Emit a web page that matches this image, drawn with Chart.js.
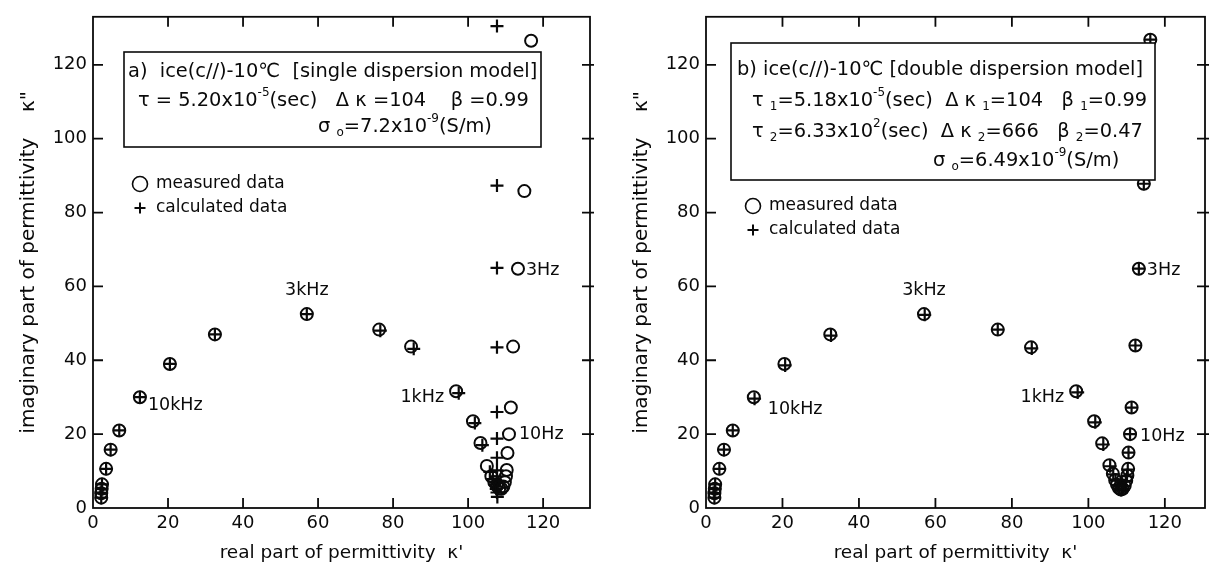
<!DOCTYPE html>
<html>
<head>
<meta charset="utf-8">
<script src="https://cdn.jsdelivr.net/npm/chart.js"></script>
<style>
body { margin: 0; background: #fff; }
#wrap { position: relative; width: 1214px; height: 572px; }
.panel { position: absolute; top: 0; width: 607px; height: 572px; }
</style>
</head>
<body>
<div id="wrap">
  <div class="panel" style="left:0"><canvas id="chartA"></canvas></div>
  <div class="panel" style="left:607px"><canvas id="chartB"></canvas></div>
</div>
<script>
const FONT = "'DejaVu Sans', sans-serif";
const INK = '#0a0a0a';
const tickValues = [0, 20, 40, 60, 80, 100, 120];

// a) single dispersion model
const measXA = [2.2, 2.2, 2.3, 2.4, 3.5, 4.7, 7.0, 12.5, 20.5, 32.5, 57, 76.3, 84.8, 96.8, 101.3, 103.3, 105.0,
  106.2, 107.0, 107.7, 108.3, 108.9, 109.4, 109.8, 110.1, 110.3, 110.5, 110.9, 111.4, 112.0, 113.3, 115.0, 116.8];
const measYA = [2.8, 4.0, 5.2, 6.4, 10.6, 15.8, 21, 30, 39, 47, 52.5, 48.3, 43.7, 31.6, 23.5, 17.6, 11.4,
  8.6, 7.0, 6.0, 5.3, 5.2, 5.8, 7.0, 8.6, 10.3, 14.9, 20, 27.2, 43.7, 64.8, 85.8, 126.5];
const calcXA = [2.2, 2.2, 2.3, 2.4, 3.5, 4.7, 7.0, 12.5, 20.5, 32.5, 57, 76.6, 85.5, 97.5, 101.8, 103.8,
  105.8, 106.6, 107.1, 107.5, 107.7, 107.8, 107.7, 107.7, 107.7, 107.7, 107.7, 107.7, 107.7, 107.7, 107.7, 107.7, 107.7];
const calcYA = [2.8, 4.0, 5.2, 6.4, 10.6, 15.8, 21, 30, 39, 47, 52.5, 48.0, 43.1, 31.1, 23.0, 17.0,
  9.8, 7.8, 6.4, 5.2, 4.2, 3.0, 5.8, 7.2, 8.6, 10.2, 13.6, 18.8, 26, 43.5, 65, 87.3, 130.5];

// b) double dispersion model
const measXB = [2.2, 2.2, 2.3, 2.4, 3.5, 4.7, 7.0, 12.5, 20.5, 32.5, 57, 76.3, 85.0, 96.8, 101.5, 103.6, 105.5,
  106.4, 107.0, 107.5, 108.0, 108.5, 109.0, 109.5, 109.9, 110.2, 110.4, 110.5, 110.9, 111.3, 112.3, 113.2, 114.5, 116.2];
const measYB = [2.8, 4.0, 5.2, 6.4, 10.6, 15.8, 21, 30, 39, 47, 52.5, 48.3, 43.5, 31.6, 23.5, 17.5, 11.6,
  9.3, 7.6, 6.3, 5.4, 5.0, 5.2, 6.0, 7.4, 8.8, 10.6, 15, 20, 27.2, 44, 64.8, 87.8, 126.8];
const calcXB = [2.2, 2.2, 2.3, 2.4, 3.5, 4.7, 7.0, 12.7, 20.7, 32.7, 57.2, 76.3, 85.2, 97.2, 101.8, 103.9, 105.7,
  106.5, 107.1, 107.6, 108.1, 108.6, 109.0, 109.4, 109.8, 110.1, 110.3, 110.5, 110.9, 111.3, 112.3, 113.2, 114.5, 116.2];
const calcYB = [2.8, 4.0, 5.2, 6.4, 10.6, 15.8, 21, 29.6, 38.6, 46.7, 52.3, 48.3, 43.2, 31.3, 23.2, 17.2, 11.3,
  9.1, 7.4, 6.1, 5.2, 4.9, 5.1, 5.9, 7.2, 8.6, 10.4, 15, 20, 27.2, 44, 64.8, 87.8, 126.8];

const freqText = ['3kHz', '10kHz', '1kHz', '10Hz', '3Hz'];
const freqXA = [57, 12.5, 96.8, 110.9, 113.3];
const freqYA = [52.5, 30, 31.6, 20, 64.8];
const freqXB = [57, 12.5, 96.8, 110.9, 113.2];
const freqYB = [52.5, 30, 31.6, 20, 64.8];

function pts(xs, ys) {
  return xs.map((v, i) => ({ x: v, y: ys[i] }));
}

// text made of runs: [text, 'sup' | 'sub' | undefined]
function drawRich(ctx, x, y, runs, size) {
  let cx = x;
  runs.forEach(([t, kind]) => {
    let s = size, dy = 0;
    if (kind === 'sup') { s = size * 0.62; dy = -size * 0.42; }
    if (kind === 'sub') { s = size * 0.62; dy = size * 0.32; }
    ctx.font = s + 'px ' + FONT;
    ctx.fillText(t, cx, y + dy);
    cx += ctx.measureText(t).width;
  });
}

const decorations = {
  id: 'decorations',
  afterDraw(chart, args, opts) {
    const { ctx, chartArea: a, scales: { x, y } } = chart;
    ctx.save();
    ctx.strokeStyle = INK;
    ctx.fillStyle = INK;
    ctx.lineWidth = 1.8;
    ctx.strokeRect(a.left, a.top, a.right - a.left, a.bottom - a.top);
    ctx.beginPath();
    tickValues.forEach(v => {
      if (v === 0) return;
      const px = x.getPixelForValue(v);
      ctx.moveTo(px, a.bottom); ctx.lineTo(px, a.bottom - 10);
      ctx.moveTo(px, a.top); ctx.lineTo(px, a.top + 10);
      const py = y.getPixelForValue(v);
      ctx.moveTo(a.left, py); ctx.lineTo(a.left + 10, py);
      ctx.moveTo(a.right - 8, py); ctx.lineTo(a.right + 4, py);
    });
    ctx.stroke();

    // parameter box
    const b = opts.box;
    ctx.fillStyle = '#fff';
    ctx.fillRect(b.x, b.y, b.w, b.h);
    ctx.lineWidth = 1.6;
    ctx.strokeRect(b.x, b.y, b.w, b.h);
    ctx.fillStyle = INK;
    ctx.textBaseline = 'middle';
    ctx.textAlign = 'left';
    opts.lines.forEach(l => drawRich(ctx, l.x, l.y, l.runs, 19.4));

    // legend
    const lg = opts.legend;
    ctx.lineWidth = 1.6;
    ctx.beginPath();
    ctx.arc(lg.x, lg.y, 7.5, 0, Math.PI * 2);
    ctx.stroke();
    ctx.lineWidth = 2;
    ctx.beginPath();
    ctx.moveTo(lg.x - 5.5, lg.y + lg.gap); ctx.lineTo(lg.x + 5.5, lg.y + lg.gap);
    ctx.moveTo(lg.x, lg.y + lg.gap - 5.5); ctx.lineTo(lg.x, lg.y + lg.gap + 5.5);
    ctx.stroke();
    ctx.font = '17px ' + FONT;
    ctx.fillText('measured data', lg.x + 16, lg.y);
    ctx.fillText('calculated data', lg.x + 16, lg.y + lg.gap);

    // frequency labels
    ctx.font = '17.5px ' + FONT;
    opts.freqX.forEach((fx, i) => {
      const [dx, dy, align] = opts.freqOffsets[i];
      ctx.textAlign = align;
      ctx.fillText(freqText[i], x.getPixelForValue(fx) + dx, y.getPixelForValue(opts.freqY[i]) + dy);
    });
    ctx.restore();
  }
};

function makeChart(id, m, c, xMax, yWidth, padRight, padTop, notes) {
  return new Chart(id, {
    type: 'scatter',
    data: {
      datasets: [
        {
          label: 'measured data',
          data: m,
          pointStyle: 'circle',
          pointRadius: 6,
          pointBorderWidth: 2,
          borderColor: INK,
          backgroundColor: 'rgba(0,0,0,0)'
        },
        {
          label: 'calculated data',
          data: c,
          pointStyle: 'cross',
          pointRadius: 6.5,
          pointBorderWidth: 2.2,
          borderColor: INK,
          backgroundColor: INK
        }
      ]
    },
    options: {
      responsive: true,
      maintainAspectRatio: false,
      animation: false,
      layout: { padding: { left: 0, right: padRight, top: padTop, bottom: 0 } },
      plugins: {
        legend: { display: false },
        tooltip: { enabled: false },
        decorations: notes
      },
      scales: {
        x: {
          type: 'linear',
          min: 0,
          max: xMax,
          afterBuildTicks: s => { s.ticks = tickValues.map(v => ({ value: v })); },
          afterFit: s => { s.height = 64; },
          grid: { display: false, drawTicks: false },
          border: { display: false },
          ticks: { color: INK, font: { family: FONT, size: 18 }, padding: 5, maxRotation: 0 },
          title: {
            display: true,
            text: "real part of permittivity  \u03ba'",
            color: INK,
            font: { family: FONT, size: 18.5 },
            padding: { bottom: 8 }
          }
        },
        y: {
          type: 'linear',
          min: 0,
          max: 133,
          afterBuildTicks: s => { s.ticks = tickValues.map(v => ({ value: v })); },
          afterFit: s => { s.width = yWidth; },
          grid: { display: false, drawTicks: false },
          border: { display: false },
          ticks: { color: INK, font: { family: FONT, size: 18 }, padding: 6 },
          title: {
            display: true,
            text: 'imaginary part of permittivity    \u03ba"',
            color: INK,
            font: { family: FONT, size: 20 },
            padding: { top: yWidth - 76 }
          }
        }
      }
    },
    plugins: [decorations]
  });
}

makeChart('chartA', pts(measXA, measYA), pts(calcXA, calcYA), 132.5, 93, 17, 14, {
  box: { x: 124, y: 52, w: 417, h: 95 },
  lines: [
    { x: 128, y: 72, runs: [['a)  ice(c//)-10\u2103  [single dispersion model]']] },
    { x: 138, y: 101, runs: [['\u03c4 = 5.20x10'], ['-5', 'sup'], ['(sec)   \u0394 \u03ba =104    \u03b2 =0.99']] },
    { x: 318, y: 127, runs: [['\u03c3 '], ['o', 'sub'], ['=7.2x10'], ['-9', 'sup'], ['(S/m)']] }
  ],
  legend: { x: 140, y: 184, gap: 24 },
  freqX: freqXA,
  freqY: freqYA,
  freqOffsets: [[0, -24, 'center'], [8, 8, 'left'], [-12, 6, 'right'], [10, 0, 'left'], [8, 2, 'left']]
});

makeChart('chartB', pts(measXB, measYB), pts(calcXB, calcYB), 130.5, 99, 9, 13, {
  box: { x: 124, y: 43, w: 424, h: 137 },
  lines: [
    { x: 130, y: 70, runs: [['b) ice(c//)-10\u2103 [double dispersion model]']] },
    { x: 145, y: 101, runs: [['\u03c4 '], ['1', 'sub'], ['=5.18x10'], ['-5', 'sup'], ['(sec)  \u0394 \u03ba '], ['1', 'sub'], ['=104   \u03b2 '], ['1', 'sub'], ['=0.99']] },
    { x: 145, y: 132, runs: [['\u03c4 '], ['2', 'sub'], ['=6.33x10'], ['2', 'sup'], ['(sec)  \u0394 \u03ba '], ['2', 'sub'], ['=666   \u03b2 '], ['2', 'sub'], ['=0.47']] },
    { x: 326, y: 161, runs: [['\u03c3 '], ['o', 'sub'], ['=6.49x10'], ['-9', 'sup'], ['(S/m)']] }
  ],
  legend: { x: 146, y: 206, gap: 24 },
  freqX: freqXB,
  freqY: freqYB,
  freqOffsets: [[0, -24, 'center'], [14, 12, 'left'], [-12, 6, 'right'], [10, 2, 'left'], [8, 2, 'left']]
});
</script>
</body>
</html>
